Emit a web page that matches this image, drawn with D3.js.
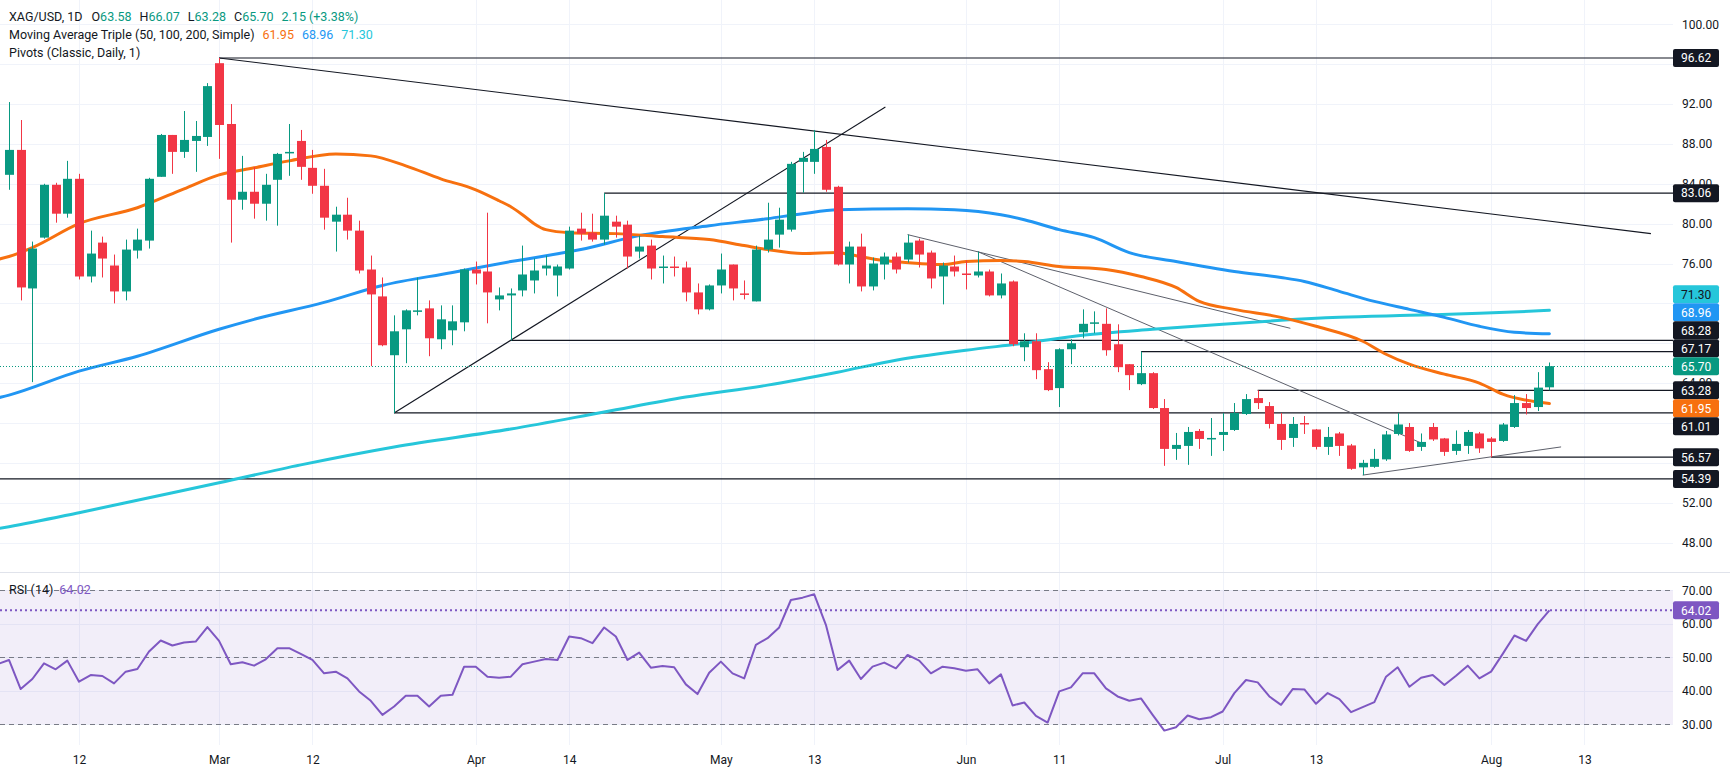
<!DOCTYPE html>
<html>
<head>
<meta charset="utf-8">
<script src="https://cdn.jsdelivr.net/npm/d3@7"></script>
<style>
  body { margin: 0; background: #fff; }
  svg { display: block; }
  text { font-family: Roboto, "Noto Sans", sans-serif; }
</style>
</head>
<body>
<div id="chart"></div>
<script>
// ---- data (bar index 0 = first visible daily bar) ----
var opens  = [84.9,87.4,73.5,78.6,83.9,81.0,84.5,74.7,78.1,75.8, 73.2,77.3,78.3,84.7,88.9,87.2,88.3,88.7,96.1,90.0,
              82.4,83.2,82.0,84.4,87.1,88.3,85.6,83.8,80.2,80.9, 79.3,75.4,72.7,66.8,69.4,71.2,71.5,68.4,69.3,70.1,
              75.4,75.2,72.4,72.8,73.3,74.3,75.5,74.8,75.5,79.5, 79.1,78.4,80.2,79.9,77.2,77.8,75.6,75.7,75.6,73.1,
              71.4,73.8,75.9,73.0,72.2,77.4,78.9,79.4,86.2,86.2, 87.7,83.7,75.9,77.7,73.7,75.9,76.7,76.4,78.3,77.1,
              74.7,75.7,75.0,74.8,75.2,72.8,74.2,67.6,68.2,65.4, 63.5,67.4,69.1,70.0,69.95,67.9,65.9,63.9,65.0,61.5,
              57.4,57.7,59.2,58.4,58.8,59.3,60.9,62.5,61.7,59.9, 58.5,60.0,59.35,57.6,58.95,57.75,55.55,55.6,56.35,58.9,
              59.6,57.6,59.6,58.45,57.2,57.7,58.95,58.45,58.2,59.6, 62.0,61.6,63.58];
var highs  = [92.2,90.4,78.2,84.0,84.1,86.3,85.0,79.3,78.7,76.9, 78.4,79.5,84.6,89.0,88.9,91.3,90.3,94.1,96.62,92.0,
              86.8,85.7,85.0,87.1,90.0,89.4,87.4,85.5,81.7,82.6, 80.3,76.8,74.6,70.8,71.4,74.6,72.3,71.8,71.8,75.5,
              76.2,81.1,73.6,73.5,77.8,76.5,76.8,75.9,79.7,81.1, 81.0,83.06,80.8,80.3,78.8,78.4,76.8,76.7,76.2,74.0,
              73.9,77.0,75.9,74.3,77.8,82.1,81.6,86.2,87.2,89.4, 88.4,83.8,78.2,79.0,76.6,77.1,77.1,78.9,78.5,77.3,
              76.1,76.8,76.3,77.2,75.4,75.0,74.3,69.0,69.0,66.1, 67.5,68.4,71.4,71.2,71.5,69.9,65.9,67.17,65.1,62.4,
              59.0,59.6,59.4,60.5,61.0,62.0,62.9,63.28,62.1,61.0, 60.6,60.7,59.4,59.6,59.1,57.9,56.3,57.4,59.2,61.0,
              60.0,58.95,60.0,58.5,59.25,59.3,59.1,58.6,60.0,62.8, 62.9,65.1,66.07];
var lows   = [83.4,72.3,64.1,78.5,80.1,80.6,74.4,74.1,74.6,72.0, 72.3,76.5,77.5,84.7,85.0,86.6,85.2,87.8,86.5,78.1,
              81.4,80.5,80.3,79.8,84.8,84.4,83.0,79.4,77.2,78.4, 75.0,65.7,67.7,61.01,66.0,70.8,66.7,67.4,67.8,69.2,
              73.9,70.0,71.3,68.28,72.7,73.0,74.8,72.7,75.4,78.3, 78.2,77.9,78.6,75.5,76.5,74.4,74.0,74.7,72.2,70.9,
              71.3,73.0,72.3,72.4,72.2,77.1,77.6,79.2,83.1,85.0, 83.2,75.8,74.0,73.2,73.3,74.4,75.0,76.1,75.6,73.5,
              71.9,74.7,73.4,74.6,72.7,72.5,67.7,66.2,64.4,63.2, 61.6,65.9,68.5,69.0,66.75,65.1,63.3,63.8,61.4,55.7,
              56.3,55.8,57.4,56.7,57.2,59.2,60.8,61.4,59.45,57.3, 57.6,58.9,57.35,56.8,56.7,55.3,54.77,55.5,56.2,58.75,
              57.1,57.2,58.2,56.7,56.8,56.9,57.0,56.57,58.1,59.5, 60.85,61.2,63.28];
var closes = [87.4,73.6,77.5,83.9,81.0,84.5,74.7,77.0,76.5,73.2, 77.4,78.4,84.5,88.9,87.2,88.4,88.8,93.8,89.9,82.4,
              83.2,82.0,83.9,87.0,87.2,85.7,83.8,80.6,80.9,79.3, 75.3,72.9,67.8,69.2,71.3,71.3,68.5,70.4,70.2,75.4,
              75.0,73.1,72.8,73.0,74.9,75.3,75.8,75.7,79.3,79.0, 78.4,80.8,79.7,76.7,77.7,75.5,75.7,75.6,73.1,71.4,
              73.8,75.4,73.5,72.9,77.4,78.4,80.4,86.0,86.6,87.5, 83.4,75.9,77.7,73.7,76.0,76.7,75.4,78.1,76.9,74.5,
              75.8,75.2,74.9,75.2,72.8,74.0,67.9,68.2,65.3,63.3, 67.4,68.0,69.95,70.1,67.3,65.6,64.8,65.0,61.5,57.4,
              57.8,59.1,58.4,58.5,59.1,61.0,62.4,62.0,59.9,58.3, 59.9,59.85,57.6,58.6,57.7,55.4,56.0,56.4,58.85,59.85,
              57.2,58.1,58.35,57.1,57.9,59.1,57.45,58.1,59.85,62.0, 61.5,63.55,65.70];

// moving averages: [bar index, value]
var ma50 = [[-1,76.4],[0,76.7],[2,77.6],[6,80.0],[11,81.6],[15,83.5],[18,84.9],[21,85.6],[24,86.3],[28,87.0],
            [31,86.8],[34,85.8],[37,84.5],[40,83.4],[42,82.3],[43,81.7],[44,80.9],[45,80.0],[46,79.4],[48,79.1],
            [52,79.0],[56,78.7],[60,78.4],[63,77.8],[65,77.4],[68,77.0],[71,77.1],[72,76.9],[75,76.3],[78,76.0],
            [80,75.9],[82,76.2],[85,76.3],[87,76.2],[90,75.7],[94,75.4],[97,74.7],[100,73.6],[102,72.2],[105,71.4],
            [109,70.6],[112,69.7],[116,68.2],[118,66.9],[120,65.9],[123,64.9],[126,64.0],[128,62.9],[132,61.95]];
var ma100 = [[-1,62.5],[0,62.8],[6,65.2],[11,66.7],[18,69.4],[21,70.4],[27,72.1],[32,73.8],[38,75.1],[43,76.2],
             [49,77.4],[54,78.8],[60,79.8],[65,80.5],[68,81.0],[71,81.4],[77,81.5],[81,81.4],[85,80.9],[87,80.4],
             [90,79.4],[93,78.6],[96,77.1],[100,76.2],[105,75.2],[109,74.6],[111,74.2],[114,73.2],[117,72.2],
             [120,71.4],[123,70.6],[126,69.7],[129,69.1],[132,68.96]];
var ma200 = [[-1,49.4],[0,49.6],[6,51.0],[12,52.5],[18,54.0],[25,55.8],[33,57.6],[43,59.4],[51,61.1],[58,62.6],
             [65,63.8],[71,65.1],[76,66.3],[82,67.3],[87,68.0],[92,68.8],[98,69.4],[104,69.9],[109,70.3],
             [114,70.6],[120,70.8],[126,71.0],[132,71.3]];

// RSI(14), first value belongs to the bar just left of the window (index -1)
var rsi = [47.9,
  49.2,40.5,43.5,48.2,46.4,49.0,42.7,44.7,44.4,42.2, 45.7,46.5,51.7,55.0,53.5,54.4,54.7,59.0,54.9,47.9,
  48.5,47.5,49.4,52.7,52.7,51.0,49.2,45.2,45.7,43.7, 39.8,37.0,32.8,35.3,38.5,38.5,35.3,38.5,38.8,47.2,
  47.2,44.2,43.9,44.2,47.9,48.7,49.5,49.2,56.2,55.7, 54.2,58.9,56.2,49.2,51.4,46.9,47.4,47.0,41.9,39.0,
  45.4,48.7,45.2,43.7,53.7,55.7,58.9,67.1,67.8,68.8, 59.7,46.2,49.0,43.5,47.2,48.4,46.7,50.7,49.0,45.2,
  47.2,46.7,46.0,46.4,42.2,44.9,35.6,36.5,32.5,30.5, 39.8,41.0,45.2,45.2,40.7,38.3,37.0,37.7,32.8,28.1,
  29.1,32.6,31.5,32.1,33.8,39.3,43.2,42.5,38.3,35.8, 40.5,40.4,36.1,39.3,37.5,33.6,35.1,36.6,44.2,47.0,
  41.2,43.9,44.7,41.7,44.5,47.5,43.7,45.7,51.0,56.5, 54.9,59.9,64.02];

// horizontal levels: price and the bar they start from
var levelPrices = [96.62, 83.06, 68.28, 67.17, 63.28, 61.01, 56.57, 54.39];
var levelStarts = [18, 51, 43, 97, 107, 33, 127, -2];

// drawn trend lines: [bar1, price1, bar2, price2]
var trendDark = [[18, 96.62, 140.7, 79.0], [33, 61.01, 75.1, 91.7]];
var trendGray = [[77, 78.9, 109.8, 69.5], [83, 77.2, 121, 58.0], [116, 54.77, 133, 57.6]];

// x-axis ticks (bar index) and their labels
var tickBars  = [6, 18, 26, 40, 48, 61, 69, 82, 90, 104, 112, 127, 135];
var tickTexts = ["12", "Mar", "12", "Apr", "14", "May", "13", "Jun", "11", "Jul", "13", "Aug", "13"];
var priceTicks = [100, 96, 92, 88, 84, 80, 76, 72, 68, 64, 60, 56, 52, 48];
var rsiTicks = [70, 60, 50, 40, 30];
var rsiBands = [70, 50, 30];

// ---- layout ----
var W = 1730, H = 775;
var plotRight = 1673;
var priceTop = 0, priceBottom = 572, rsiBottom = 745;
var green = "#089981", red = "#f23645", dark = "#131722";
var cOrange = "#f7700f", cBlue = "#2196f3", cCyan = "#26c6da", cPurple = "#7e57c2";

var svg = d3.select("#chart").append("svg").attr("width", W).attr("height", H);

var x = d3.scaleLinear().domain([-0.771, 142.59]).range([0, plotRight]);
var y = d3.scaleLinear().domain([45.05, 102.44]).range([priceBottom, priceTop]);
var yr = d3.scaleLinear().domain([23.8, 75.46]).range([rsiBottom, priceBottom]);

var defs = svg.append("defs");
defs.append("clipPath").attr("id", "clipP").append("rect")
  .attr("x", 0).attr("y", priceTop).attr("width", plotRight).attr("height", priceBottom - priceTop);
defs.append("clipPath").attr("id", "clipR").append("rect")
  .attr("x", 0).attr("y", priceBottom).attr("width", plotRight).attr("height", rsiBottom - priceBottom);

// grid
var grid = svg.append("g").attr("stroke", "#f0f3fa").attr("stroke-width", 1);
tickBars.forEach(function (b) {
  grid.append("line").attr("x1", Math.round(x(b)) + 0.5).attr("x2", Math.round(x(b)) + 0.5)
    .attr("y1", priceTop).attr("y2", rsiBottom);
});
priceTicks.forEach(function (p) {
  grid.append("line").attr("x1", 0).attr("x2", plotRight)
    .attr("y1", Math.round(y(p)) + 0.5).attr("y2", Math.round(y(p)) + 0.5);
});
rsiTicks.forEach(function (r) {
  grid.append("line").attr("x1", 0).attr("x2", plotRight)
    .attr("y1", Math.round(yr(r)) + 0.5).attr("y2", Math.round(yr(r)) + 0.5);
});

// pane separator
svg.append("line").attr("x1", 0).attr("x2", W)
  .attr("y1", priceBottom + 0.5).attr("y2", priceBottom + 0.5)
  .attr("stroke", "#e0e3eb").attr("stroke-width", 1);

// ---- price pane ----
var pane = svg.append("g").attr("clip-path", "url(#clipP)");

// horizontal levels
levelPrices.forEach(function (p, i) {
  pane.append("line")
    .attr("x1", x(levelStarts[i])).attr("x2", plotRight)
    .attr("y1", y(p)).attr("y2", y(p))
    .attr("stroke", dark).attr("stroke-width", 1.2);
});

// trend lines
function drawTrend(list, color, w) {
  list.forEach(function (t) {
    pane.append("line")
      .attr("x1", x(t[0])).attr("y1", y(t[1]))
      .attr("x2", x(t[2])).attr("y2", y(t[3]))
      .attr("stroke", color).attr("stroke-width", w);
  });
}
drawTrend(trendDark, dark, 1.1);
drawTrend(trendGray, "#5d606b", 1);

// moving averages
var maLine = d3.line().x(function (d) { return x(d[0]); }).y(function (d) { return y(d[1]); })
  .curve(d3.curveMonotoneX);
[[ma200, cCyan], [ma100, cBlue], [ma50, cOrange]].forEach(function (m) {
  pane.append("path").datum(m[0]).attr("d", maLine)
    .attr("fill", "none").attr("stroke", m[1]).attr("stroke-width", 3)
    .attr("stroke-linejoin", "round").attr("stroke-linecap", "round");
});

// last price line
var last = closes.length - 1;
pane.append("line").attr("x1", 0).attr("x2", plotRight)
  .attr("y1", Math.round(y(closes[last])) + 0.5).attr("y2", Math.round(y(closes[last])) + 0.5)
  .attr("stroke", green).attr("stroke-width", 1).attr("stroke-dasharray", "1,2");

// candles
var bodyW = 9;
var candles = pane.selectAll("g.candle").data(d3.range(closes.length)).enter().append("g")
  .attr("class", "candle")
  .attr("fill", function (i) { return closes[i] >= opens[i] ? green : red; })
  .attr("stroke", function (i) { return closes[i] >= opens[i] ? green : red; });
candles.append("line")
  .attr("x1", function (i) { return Math.round(x(i)) + 0.5; })
  .attr("x2", function (i) { return Math.round(x(i)) + 0.5; })
  .attr("y1", function (i) { return y(highs[i]); })
  .attr("y2", function (i) { return y(lows[i]); })
  .attr("stroke-width", 1);
candles.append("rect")
  .attr("x", function (i) { return Math.round(x(i)) + 0.5 - bodyW / 2; })
  .attr("width", bodyW)
  .attr("y", function (i) { return y(Math.max(opens[i], closes[i])); })
  .attr("height", function (i) { return Math.max(1.5, Math.abs(y(opens[i]) - y(closes[i]))); })
  .attr("stroke", "none");

// ---- RSI pane ----
var rp = svg.append("g").attr("clip-path", "url(#clipR)");
rp.append("rect").attr("x", 0).attr("width", plotRight)
  .attr("y", yr(70)).attr("height", yr(30) - yr(70))
  .attr("fill", cPurple).attr("fill-opacity", 0.1);
rsiBands.forEach(function (r) {
  rp.append("line").attr("x1", 0).attr("x2", plotRight)
    .attr("y1", Math.round(yr(r)) + 0.5).attr("y2", Math.round(yr(r)) + 0.5)
    .attr("stroke", "#787b86").attr("stroke-width", 1).attr("stroke-dasharray", "5,4");
});
var rsiLast = rsi[rsi.length - 1];
rp.append("line").attr("x1", 0).attr("x2", plotRight)
  .attr("y1", yr(rsiLast)).attr("y2", yr(rsiLast))
  .attr("stroke", cPurple).attr("stroke-width", 2).attr("stroke-dasharray", "2,3");
var rsiLine = d3.line().x(function (d, k) { return x(k - 1); }).y(function (d) { return yr(d); });
rp.append("path").datum(rsi).attr("d", rsiLine)
  .attr("fill", "none").attr("stroke", cPurple).attr("stroke-width", 2).attr("stroke-linejoin", "round");

// ---- price scale labels (stacked so they do not overlap) ----
var boxes = [];
levelPrices.forEach(function (p) { boxes.push({ v: p, bg: dark, fg: "#fff" }); });
boxes.push({ v: ma200[ma200.length - 1][1], bg: cCyan, fg: dark });
boxes.push({ v: ma100[ma100.length - 1][1], bg: cBlue, fg: "#fff" });
boxes.push({ v: ma50[ma50.length - 1][1], bg: cOrange, fg: "#fff" });
var anchorBox = { v: closes[last], bg: green, fg: "#fff" };
boxes.push(anchorBox);
boxes.forEach(function (b) { b.y = y(b.v); b.cy = b.y; });
boxes.sort(function (a, b) { return a.y - b.y; });
var boxH = 18, ai = boxes.indexOf(anchorBox);
for (var k = ai - 1; k >= 0; k--) boxes[k].cy = Math.min(boxes[k].y, boxes[k + 1].cy - boxH);
for (var k2 = ai + 1; k2 < boxes.length; k2++) boxes[k2].cy = Math.max(boxes[k2].y, boxes[k2 - 1].cy + boxH);

// a tick label is left out when the boxes hide (almost) all of it
function hidden(ty) {
  var top = ty - 4.5, bot = ty + 4.5, free = 0, step = 0.5;
  for (var t = top; t < bot; t += step) {
    var cov = boxes.some(function (b) { return t >= b.cy - boxH / 2 && t <= b.cy + boxH / 2; });
    if (!cov) free += step;
  }
  return free < 2;
}
var shownTicks = priceTicks.filter(function (p) { return !hidden(y(p)); });

// ---- axes ----
function styleAxis(g) {
  g.select(".domain").remove();
  g.selectAll("text").attr("fill", dark).style("font-size", "12px")
    .style("font-family", "Roboto, 'Noto Sans', sans-serif");
}
svg.append("g").attr("transform", "translate(" + plotRight + ",0)")
  .call(d3.axisRight(y).tickValues(shownTicks).tickSize(0).tickPadding(9).tickFormat(d3.format(".2f")))
  .call(styleAxis);
svg.append("g").attr("transform", "translate(" + plotRight + ",0)")
  .call(d3.axisRight(yr).tickValues(rsiTicks).tickSize(0).tickPadding(9).tickFormat(d3.format(".2f")))
  .call(styleAxis);
svg.append("g").attr("transform", "translate(0," + rsiBottom + ")")
  .call(d3.axisBottom(x).tickValues(tickBars).tickSize(0).tickPadding(10)
    .tickFormat(function (d, i) { return tickTexts[i]; }))
  .call(styleAxis);

function drawBox(cy, bg, fg, txt) {
  svg.append("rect").attr("x", plotRight).attr("y", cy - boxH / 2)
    .attr("width", 46).attr("height", boxH).attr("rx", 2).attr("fill", bg);
  svg.append("text").attr("x", plotRight + 8).attr("y", cy).attr("dy", "0.36em")
    .attr("fill", fg).style("font-size", "12px").text(txt);
}
boxes.forEach(function (b) { drawBox(b.cy, b.bg, b.fg, d3.format(".2f")(b.v)); });
drawBox(yr(rsiLast), cPurple, "#fff", d3.format(".2f")(rsiLast));

// ---- legend ----
var fmt = d3.format(".2f");
var chg = closes[last] - closes[last - 1];
var leg = svg.append("g").style("font-size", "12.5px");
var l1 = leg.append("text").attr("x", 9).attr("y", 21).attr("fill", dark);
l1.append("tspan").text("XAG/USD, 1D");
[["O", opens[last]], ["H", highs[last]], ["L", lows[last]], ["C", closes[last]]].forEach(function (p, i) {
  l1.append("tspan").attr("dx", i === 0 ? 9 : 8).text(p[0]);
  l1.append("tspan").attr("fill", green).text(fmt(p[1]));
});
l1.append("tspan").attr("dx", 8).attr("fill", green)
  .text(fmt(chg) + " (" + d3.format("+.2%")(chg / closes[last - 1]) + ")");

var l2 = leg.append("text").attr("x", 9).attr("y", 39).attr("fill", dark);
l2.append("tspan").text("Moving Average Triple (50, 100, 200, Simple)");
[[ma50, cOrange], [ma100, cBlue], [ma200, cCyan]].forEach(function (m) {
  l2.append("tspan").attr("dx", 8).attr("fill", m[1]).text(fmt(m[0][m[0].length - 1][1]));
});
leg.append("text").attr("x", 9).attr("y", 57).attr("fill", dark).text("Pivots (Classic, Daily, 1)");

var lr = svg.append("text").attr("x", 9).attr("y", yr(70) + 4).style("font-size", "12.5px").attr("fill", dark);
lr.append("tspan").text("RSI (14)");
lr.append("tspan").attr("dx", 6).attr("fill", cPurple).text(fmt(rsiLast));
</script>
</body>
</html>
